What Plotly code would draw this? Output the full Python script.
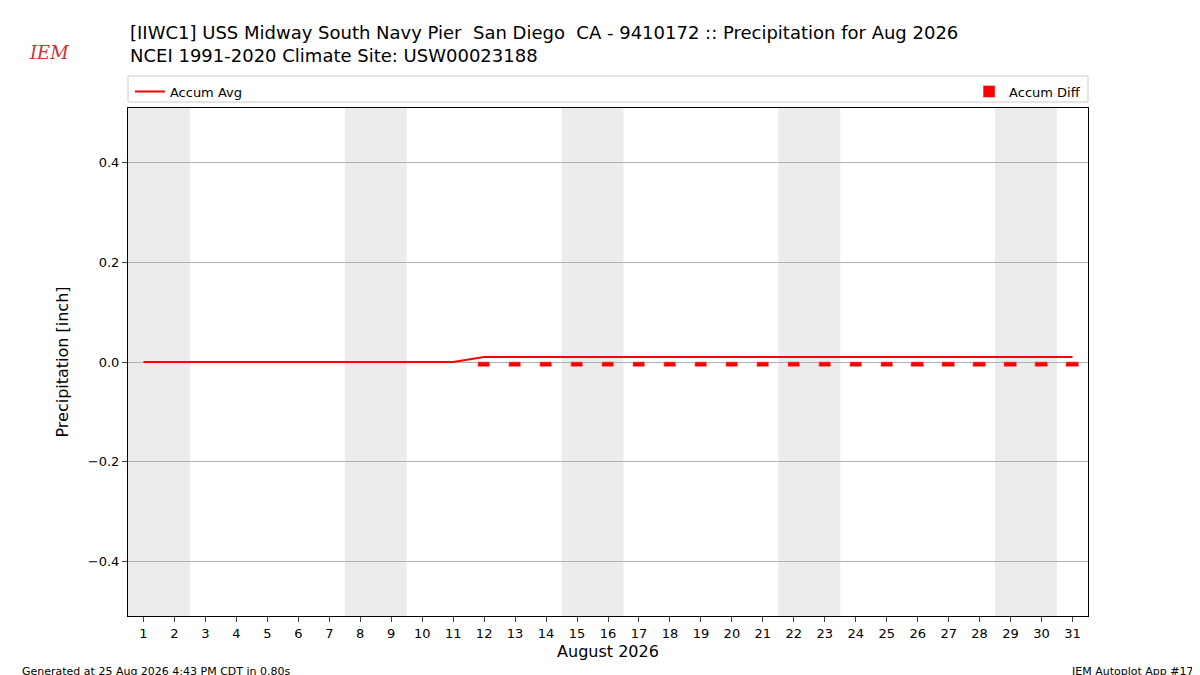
import plotly.graph_objects as go

days = list(range(1, 32))
accum_avg = [0.0]*11 + [0.01]*20
diff_days = list(range(12, 32))
accum_diff = [-0.01]*20
weekend_starts = [1, 8, 15, 22, 29]
yticks = [-0.4, -0.2, 0.0, 0.2, 0.4]
ytext = ["\u22120.4", "\u22120.2", "0.0", "0.2", "0.4"]

fig = go.Figure()
fig.add_trace(go.Bar(x=diff_days, y=accum_diff, width=0.4, marker_color="red",
                     name="Accum Diff", legend="legend2", showlegend=True))
fig.add_trace(go.Scatter(x=days, y=accum_avg, mode="lines", line=dict(color="red", width=2),
                         name="Accum Avg", legend="legend", showlegend=True))
for s in weekend_starts:
    fig.add_vrect(x0=s-0.5, x1=s+1.5, fillcolor="#ececec", line_width=0, layer="below")

fig.add_shape(type="rect", xref="paper", yref="paper", x0=0, x1=1, y0=1.0118, y1=1.063,
              line=dict(color="#cccccc", width=1), fillcolor="white")

fig.update_layout(
    width=1200, height=675, plot_bgcolor="white", paper_bgcolor="white",
    showlegend=True,
    margin=dict(l=120, r=120, t=100, b=67, autoexpand=False),
    font=dict(family="DejaVu Sans", size=13, color="black"),
    legend=dict(x=0.002, y=1.062, xanchor="left", yanchor="top", bgcolor="rgba(0,0,0,0)", font=dict(size=13)),
    legend2=dict(x=0.998, y=1.062, xanchor="right", yanchor="top", bgcolor="rgba(0,0,0,0)", font=dict(size=13)),
    xaxis=dict(range=[0.5, 31.5], tickmode="array", tickvals=days, ticks="outside",
               showgrid=False, showline=True, mirror=True, linecolor="black",
               title=dict(text="August 2026", font=dict(size=16), standoff=6), zeroline=False),
    yaxis=dict(range=[-0.51, 0.51], tickvals=yticks, ticktext=ytext, ticks="outside",
               showgrid=True, gridcolor="#b0b0b0", showline=True, mirror=True, linecolor="black",
               zeroline=False, title=dict(text="Precipitation [inch]", font=dict(size=16))),
    bargap=0,
)
fig.add_annotation(xref="paper", yref="paper", x=0, xanchor="left", y=1.0, yshift=88, yanchor="top",
                   text="[IIWC1] USS Midway South Navy Pier  San Diego  CA - 9410172 :: Precipitation for Aug 2026<br>NCEI 1991-2020 Climate Site: USW00023188",
                   showarrow=False, align="left", font=dict(size=18))
fig.add_annotation(xref="paper", yref="paper", x=-0.1125, xanchor="left", y=0, yshift=-64, yanchor="bottom",
                   text="Generated at 25 Aug 2026 4:43 PM CDT in 0.80s", showarrow=False, font=dict(size=11))
fig.add_annotation(xref="paper", yref="paper", x=1.1125, xanchor="right", y=0, yshift=-64, yanchor="bottom",
                   text="IEM Autoplot App #17", showarrow=False, font=dict(size=11))
fig.add_annotation(xref="paper", yref="paper", x=-0.105, xanchor="left", y=1.0, yshift=68, yanchor="top",
                   text="<i>IEM</i>", showarrow=False, font=dict(size=18, color="#d03030", family="DejaVu Serif"))
fig.write_html("out.html")
